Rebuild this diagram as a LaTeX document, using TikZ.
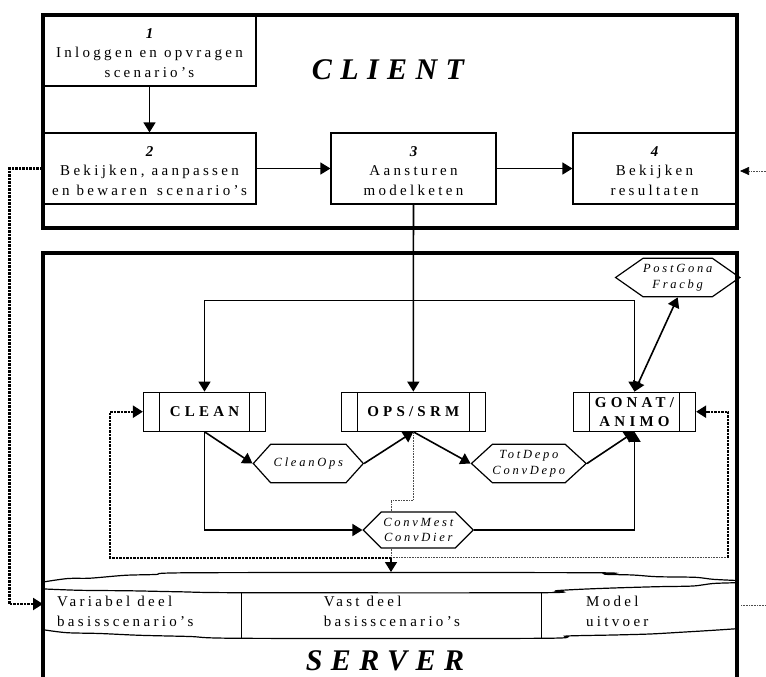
\documentclass[tikz,border=0pt]{standalone}
\usepackage{fontspec}
\setmainfont{Liberation Serif}
\newfontfamily\spaced[LetterSpace=22]{Liberation Serif}
\newfontfamily\wide[LetterSpace=28]{Liberation Serif}
\usetikzlibrary{arrows.meta,shapes,calc,positioning}
\newcommand\tasknr[1]{\rule{0pt}{15pt}{\bfseries\itshape #1}}

\begin{document}
\begin{tikzpicture}[
	x=1pt, y=-1pt,
	>={Triangle[length=10pt,width=12pt]},
	frame/.style = {line width=3.2pt},
	task/.style = {draw, line width=1.2pt, rectangle, align=center,
		minimum height=71pt, inner sep=0pt,
		font=\spaced\fontsize{15}{19.5}\selectfont},
	proc/.style = {draw, line width=1.2pt, rectangle, align=center,
		minimum height=39pt, inner sep=0pt,
		font=\wide\bfseries\fontsize{15}{19}\selectfont,
		path picture={
			\draw[line width=1.2pt] ([xshift=16pt]path picture bounding box.north west) -- ([xshift=16pt]path picture bounding box.south west);
			\draw[line width=1.2pt] ([xshift=-16pt]path picture bounding box.north east) -- ([xshift=-16pt]path picture bounding box.south east);}},
	file/.style = {draw, line width=1.2pt, shape=signal, signal to=west and east,
		inner sep=0pt, align=center,
		font=\spaced\itshape\fontsize{12.5}{15.5}\selectfont},
	flow/.style = {->, line width=1.6pt},
	feed/.style = {->, line width=2.2pt, dash pattern=on 2.5pt off 1pt},
	hint/.style = {line width=0.6pt, densely dotted, black!70},
	store/.style = {line width=1.2pt},
	label/.style = {font=\spaced\fontsize{15}{19.5}\selectfont, align=left, inner sep=0pt},
	title/.style = {font=\wide\bfseries\itshape\fontsize{30}{30}\selectfont, inner sep=0pt}
]
\useasboundingbox (0,0) rectangle (766,677);

% client
\draw[frame] (43,15) rectangle (737,228);
\node[title] (client) at (388,70) {CLIENT};
\node[task, minimum width=213pt] (inlog) at (149.5,50.5)
	{\tasknr{1}\\Inloggen en opvragen\\scenario’s};
\node[task, minimum width=213pt] (bewaar) at (149.5,168.5)
	{\tasknr{2}\\Bekijken, aanpassen\\en bewaren\hspace{3pt} scenario’s};
\node[task, minimum width=165pt] (stuur) at (413.5,168.5)
	{\tasknr{3}\\Aansturen\\modelketen};
\node[task, minimum width=163pt] (result) at (654.5,168.5)
	{\tasknr{4}\\Bekijken\\resultaten};
\draw[flow] (inlog) -- (bewaar);
\draw[flow] (bewaar) -- (stuur);
\draw[flow] (stuur) -- (result);

% server
\draw[frame] (43,680) -- (43,253) -- (737,253) -- (737,680);
\node[title] (server) at (385,661) {SERVER};

\node[proc, minimum width=122pt] (clean) at (204.5,411.7) {CLEAN};
\node[proc, minimum width=144pt] (ops) at (413.3,411.7) {OPS/SRM};
\node[proc, minimum width=122pt] (gonat) at (634.5,411.7) {GONAT/\\ANIMO};

\node[file, minimum width=121pt, minimum height=38.5pt, signal pointer angle=70] (post) at (677.7,277.5) {PostGona\\Fracbg};
\node[file, minimum width=110pt, minimum height=38.5pt, signal pointer angle=96] (cops) at (308.3,463.5) {CleanOps};
\node[file, minimum width=112pt, minimum height=38.5pt, signal pointer angle=85] (depo) at (528.8,463.5) {TotDepo\\ConvDepo};
\node[file, minimum width=110pt, minimum height=36pt, signal pointer angle=90] (mest) at (418.3,530) {ConvMest\\ConvDier};

\coordinate (split) at (413.3,300.3);
\draw[flow] (stuur) -- (ops);
\draw[flow] (split) -| (clean);
\draw[flow] (split) -| (gonat);
\draw[<->, line width=1.6pt] (gonat.north) -- (post.south);

\draw[flow] (clean.south) -- (cops.west);
\draw[flow] (cops.east) -- (ops.south);
\draw[flow] (ops.south) -- (depo.west);
\draw[flow] (depo.east) -- (gonat.south);
\draw[flow] (clean.south) |- (mest.west);
\draw[flow] (mest.east) -| (gonat.south);

% data
\coordinate (fork) at (391,500);
\coordinate (drop) at (391,557.7);
\coordinate (land) at (391,572);
\coordinate (lturn) at (110,557.7);
\coordinate (rturn) at (728,557.7);
\draw[hint] (ops.south) |- (fork) -- (fork |- mest.north);
\draw[hint] (fork |- mest.south) -- (drop);
\draw[->, line width=1.6pt] (drop) -- (land);
\draw[feed] (drop) -- (lturn) |- (clean.west);
\draw[hint] (drop) -- (rturn);
\draw[feed] (rturn) |- (gonat.east);

\draw[store] plot[smooth, tension=0.5] coordinates {(45,581.7) (68,578.5) (90,578.2) (125,575.3) (155,574.5) (200,572.7) (587,572.7) (605,574.3) (633,575) (657,576.7) (695,577.3) (713,579.3) (737,580.5)};
\draw[store] plot[smooth, tension=0.5] coordinates {(45,589) (80,590.3) (130,590.8) (180,591.8) (242,592.7) (541.7,592.7) (556,590.7) (580,589.3) (613,588) (657,586.7) (693,586) (713,583.5) (737,582.7)};
\draw[store] plot[smooth, tension=0.5] coordinates {(45,630) (67,632.7) (100,633.5) (140,635.3) (190,636.5) (241.7,638.3) (541.7,638.3) (566.7,636) (613.3,635) (650,634) (680,632.3) (710,630.5) (737,628.7)};
\draw[store] (241.7,592.7) -- (241.7,638.3);
\draw[store] (541.7,592.7) -- (541.7,638.3);
\node[label, anchor=west] (var) at (57,611.5) {Variabel deel\\basisscenario’s};
\node[label] (vast) at (392,611.5) {Vast deel\\basisscenario’s};
\node[label, anchor=west] (uit) at (586,611.5) {Model\\uitvoer};

% loops outside
\coordinate (varin) at (43,604);
\coordinate (resin) at (740,171);
\coordinate (resout) at (766,171);
\coordinate (uitin) at (741,605);
\coordinate (uitout) at (766,605);
\draw[feed] (bewaar.west) -- ++(-33,0) |- (varin);
\draw[hint, -{Triangle[length=9pt,width=8pt,black]}] (resout) -- (resin);
\draw[hint] (uitin) -- (uitout);
\end{tikzpicture}
\end{document}
